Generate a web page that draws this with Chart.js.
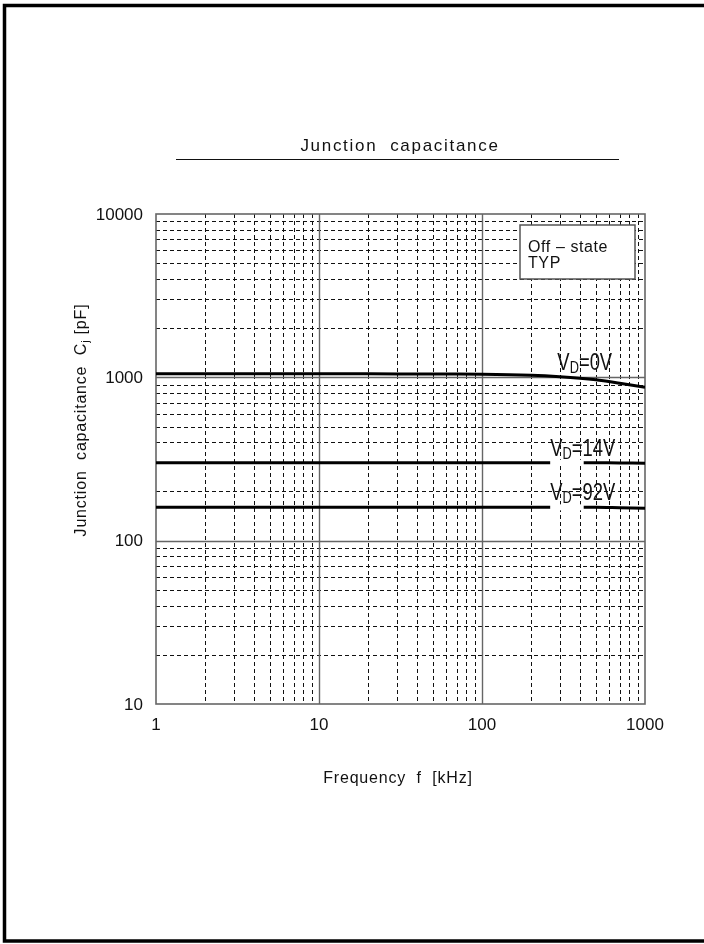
<!DOCTYPE html>
<html>
<head>
<meta charset="utf-8">
<script src="https://cdn.jsdelivr.net/npm/chart.js@4.4.1/dist/chart.umd.min.js"></script>
<style>
  html, body { margin: 0; padding: 0; background: #fff; }
  #wrap { width: 704px; height: 944px; }
</style>
</head>
<body>
<div id="wrap"><canvas id="c" width="704" height="944"></canvas></div>
<script>
// ---- data ----
const freqKHz = [1, 2, 5, 10, 20, 50, 100, 200, 300, 500, 700, 1000];
const cjVD0 = [1050, 1050, 1050, 1050, 1050, 1049, 1045, 1030, 1008, 965, 920, 870];
const cjVD14 = [300, 300, 300, 300, 300, 300, 300, 300, 300, 300, 299, 298];
const cjVD92 = [160, 160, 160, 160, 160, 160, 160, 160, 160, 160, 159, 158];
const seriesNames = ['0V', '14V', '92V'];
const xTickLabels = ['1', '10', '100', '1000'];
const xTickValues = [1, 10, 100, 1000];
const yTickLabels = ['10', '100', '1000', '10000'];
const yTickValues = [10, 100, 1000, 10000];
const minorMult = [2, 3, 4, 5, 6, 7, 8, 9];
// label anchor frequency (kHz) for each series label
const labelAnchorX = [290, 262, 262];

const mk = (ys) => freqKHz.map((f, i) => ({ x: f, y: ys[i] }));

const FONT = "'Liberation Sans', Arial, sans-serif";

function spaced(ctx, txt, x, y, sp) {
  ctx.letterSpacing = sp + 'px';
  ctx.fillText(txt, x, y);
  ctx.letterSpacing = '0px';
}

const decor = {
  id: 'decor',
  beforeDatasetsDraw(chart) {
    const { ctx, chartArea: a, scales: { x, y } } = chart;
    ctx.save();
    // minor grid
    ctx.strokeStyle = '#111';
    ctx.lineWidth = 1;
    ctx.setLineDash([4, 3]);
    for (let d = 1; d < 1000; d *= 10) {
      for (const m of minorMult) {
        const px = Math.round(x.getPixelForValue(d * m)) + 0.5;
        ctx.beginPath(); ctx.moveTo(px, a.top); ctx.lineTo(px, a.bottom); ctx.stroke();
      }
    }
    for (let d = 10; d < 10000; d *= 10) {
      for (const m of minorMult) {
        const py = Math.round(y.getPixelForValue(d * m)) + 0.5;
        ctx.beginPath(); ctx.moveTo(a.left, py); ctx.lineTo(a.right, py); ctx.stroke();
      }
    }
    // major grid
    ctx.setLineDash([]);
    ctx.strokeStyle = '#666';
    ctx.lineWidth = 1.4;
    for (const v of xTickValues.slice(1, -1)) {
      const px = Math.round(x.getPixelForValue(v)) + 0.5;
      ctx.beginPath(); ctx.moveTo(px, a.top); ctx.lineTo(px, a.bottom); ctx.stroke();
    }
    for (const v of yTickValues.slice(1, -1)) {
      const py = Math.round(y.getPixelForValue(v)) + 0.5;
      ctx.beginPath(); ctx.moveTo(a.left, py); ctx.lineTo(a.right, py); ctx.stroke();
    }
    // plot border
    ctx.strokeStyle = '#666';
    ctx.lineWidth = 1.6;
    ctx.strokeRect(a.left, a.top, a.right - a.left, a.bottom - a.top);
    ctx.restore();
  },
  afterDatasetsDraw(chart) {
    const { ctx, scales: { x, y } } = chart;
    ctx.save();
    // legend box
    ctx.fillStyle = '#fff';
    ctx.fillRect(520, 225, 115, 54);
    ctx.strokeStyle = '#555';
    ctx.lineWidth = 1.5;
    ctx.strokeRect(520, 225, 115, 54);
    ctx.fillStyle = '#111';
    ctx.font = '16px ' + FONT;
    ctx.textBaseline = 'alphabetic';
    ctx.textAlign = 'left';
    spaced(ctx, 'Off \u2013 state', 528, 252, 0.6);
    spaced(ctx, 'TYP', 528, 268, 0.6);

    // series labels (narrow text: horizontally compressed)
    const series = [cjVD0, cjVD14, cjVD92];
    const SX = 0.8;
    series.forEach((vals, i) => {
      const lx = x.getPixelForValue(labelAnchorX[i]);
      const ly = y.getPixelForValue(i === 0 ? vals[8] : vals[9]);
      const base = ly - 7;
      ctx.font = '23px ' + FONT;
      const wV = ctx.measureText('V').width * SX;
      ctx.font = '16px ' + FONT;
      const wD = ctx.measureText('D').width * SX;
      if (i > 0) {
        ctx.fillStyle = '#fff';
        ctx.fillRect(lx, ly - 3, wV + wD + 12, 6);
      }
      ctx.fillStyle = '#111';
      ctx.save();
      ctx.translate(lx, base);
      ctx.scale(SX, 1);
      ctx.font = '23px ' + FONT;
      ctx.fillText('V', 0, 0);
      ctx.font = '16px ' + FONT;
      ctx.fillText('D', wV / SX, 3);
      ctx.font = '23px ' + FONT;
      ctx.fillText('=' + seriesNames[i], (wV + wD) / SX, 0);
      ctx.restore();
    });
    ctx.restore();
  },
  afterDraw(chart) {
    const { ctx } = chart;
    ctx.save();
    ctx.fillStyle = '#111';
    ctx.textBaseline = 'alphabetic';
    // title
    ctx.font = '17px ' + FONT;
    ctx.textAlign = 'left';
    ctx.letterSpacing = '1.7px';
    const tw = ctx.measureText('Junction  capacitance').width;
    ctx.fillText('Junction  capacitance', 400 - tw / 2, 151);
    ctx.letterSpacing = '0px';
    ctx.strokeStyle = '#111';
    ctx.lineWidth = 1;
    ctx.beginPath(); ctx.moveTo(176, 159.5); ctx.lineTo(619, 159.5); ctx.stroke();
    // x title
    ctx.font = '16px ' + FONT;
    ctx.letterSpacing = '0.8px';
    const xw = ctx.measureText('Frequency  f  [kHz]').width;
    ctx.fillText('Frequency  f  [kHz]', 398 - xw / 2, 783);
    // y title
    ctx.translate(86, 420);
    ctx.rotate(-Math.PI / 2);
    const p1 = 'Junction  capacitance  C', p2 = 'j', p3 = ' [pF]';
    ctx.font = '16px ' + FONT;
    const w1 = ctx.measureText(p1).width, w3 = ctx.measureText(p3).width;
    ctx.font = '11px ' + FONT;
    const w2 = ctx.measureText(p2).width;
    const sx = -(w1 + w2 + w3) / 2;
    ctx.font = '16px ' + FONT;
    ctx.fillText(p1, sx, 0);
    ctx.font = '11px ' + FONT;
    ctx.fillText(p2, sx + w1, 3);
    ctx.font = '16px ' + FONT;
    ctx.fillText(p3, sx + w1 + w2, 0);
    ctx.letterSpacing = '0px';
    ctx.restore();
    // page frame
    ctx.save();
    ctx.strokeStyle = '#000';
    ctx.lineWidth = 3.5;
    ctx.beginPath();
    ctx.moveTo(704, 5.5); ctx.lineTo(4.5, 5.5); ctx.lineTo(4.5, 941); ctx.lineTo(704, 941);
    ctx.stroke();
    ctx.restore();
  }
};

const lineDs = (data) => ({
  data, showLine: true, borderColor: '#000', borderWidth: 3,
  pointRadius: 0, tension: 0.3, fill: false
});

new Chart(document.getElementById('c'), {
  type: 'scatter',
  data: { datasets: [lineDs(mk(cjVD0)), lineDs(mk(cjVD14)), lineDs(mk(cjVD92))] },
  options: {
    responsive: false,
    animation: false,
    devicePixelRatio: 1,
    layout: { padding: { left: 0, right: 59, top: 214, bottom: 0 } },
    plugins: { legend: { display: false }, tooltip: { enabled: false } },
    scales: {
      x: {
        type: 'logarithmic', min: 1, max: 1000,
        grid: { display: false }, border: { display: false },
        afterBuildTicks: (s) => { s.ticks = xTickValues.map(v => ({ value: v })); },
        afterFit: (s) => { s.height = 240; },
        ticks: {
          autoSkip: false, maxRotation: 0, padding: 3, color: '#111',
          font: { size: 17, family: FONT },
          callback: (v) => { const i = xTickValues.indexOf(v); return i >= 0 ? xTickLabels[i] : ''; }
        }
      },
      y: {
        type: 'logarithmic', min: 10, max: 10000,
        grid: { display: false }, border: { display: false },
        afterBuildTicks: (s) => { s.ticks = yTickValues.map(v => ({ value: v })); },
        afterFit: (s) => { s.width = 156; },
        ticks: {
          autoSkip: false, padding: 5, color: '#111', labelOffset: 1,
          font: { size: 17, family: FONT },
          callback: (v) => { const i = yTickValues.indexOf(v); return i >= 0 ? yTickLabels[i] : ''; }
        }
      }
    }
  },
  plugins: [decor]
});
</script>
</body>
</html>
